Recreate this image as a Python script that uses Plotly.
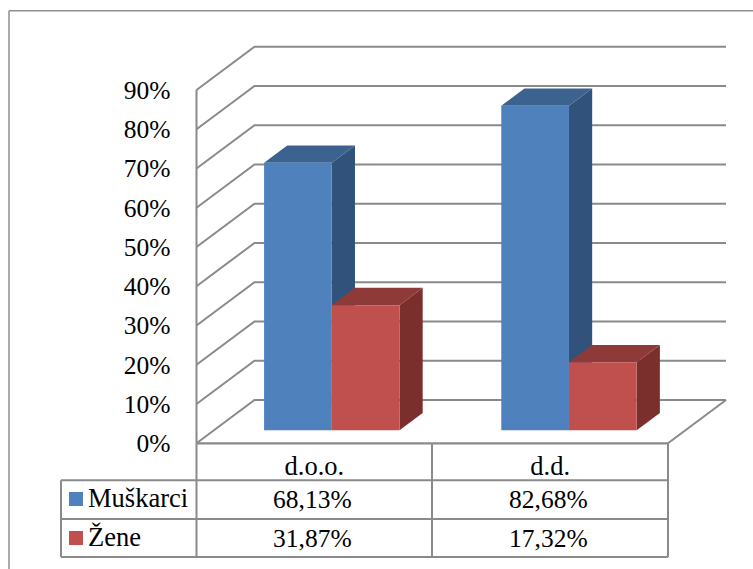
import plotly.graph_objects as go

# ---- data ----
categories = ["d.o.o.", "d.d."]
muskarci = [68.13, 82.68]
zene = [31.87, 17.32]
series_names = ["Muškarci", "Žene"]
y_ticks = [0, 10, 20, 30, 40, 50, 60, 70, 80, 90]
y_tick_labels = [f"{t}%" for t in y_ticks]

# ---- styling ----
W, H = 753, 569
FONT = "Liberation Serif"
GRID = "#8a8a8a"
BORDER = "#8f8f8f"
BLUE = ("#4F81BD", "#3C6290", "#31537B")   # front, top, side
RED = ("#C0504D", "#8E3A38", "#7B2F2D")

# axis geometry in pixels
AX_L, AX_R = 196.5, 668.0
AX_0, PX_PER_UNIT = 443.3, 3.926
CAT_PX = (AX_R - AX_L) / 2
DX, DY = 58.0 / CAT_PX, 43.3 / PX_PER_UNIT          # full wall depth in axis units
BAR_W = 67.7 / CAT_PX
BAR_PITCH = 237.2 / CAT_PX
D_FRONT, D_BACK = 0.30, 0.70                        # bar depth inside the floor


def px_x(p):
    return p / W


def px_y(p):
    return 1 - p / H


xr = [-0.5 - AX_L / CAT_PX, -0.5 + (W - AX_L) / CAT_PX]
yr = [(AX_0 - H) / PX_PER_UNIT, AX_0 / PX_PER_UNIT]

fig = go.Figure()


def poly(xs, ys, color):
    fig.add_trace(go.Scatter(x=xs, y=ys, mode="lines", fill="toself", fillcolor=color,
                             line=dict(width=0, color=color), hoverinfo="skip",
                             showlegend=False))


def line(xs, ys, width=2, color=GRID):
    fig.add_trace(go.Scatter(x=xs, y=ys, mode="lines", line=dict(width=width, color=color),
                             hoverinfo="skip", showlegend=False))


# walls: gridlines wrap from side wall to back wall
for t in y_ticks:
    line([-0.5, -0.5 + DX, 1.5 + DX], [t, t + DY, t + DY])
line([-0.5, -0.5], [y_ticks[0], y_ticks[-1]])
line([-0.5, 1.5], [0, 0], width=2.2)
line([1.5, 1.5 + DX], [0, DY])


def bar(x_left, value, colors):
    fx, fy = D_FRONT * DX, D_FRONT * DY
    bx, by = D_BACK * DX, D_BACK * DY
    xl, xr_ = x_left + fx, x_left + BAR_W + fx
    base, top = fy, value + fy
    ddx, ddy = bx - fx, by - fy
    poly([xr_, xr_ + ddx, xr_ + ddx, xr_, xr_], [base, base + ddy, top + ddy, top, base], colors[2])
    poly([xl, xl + ddx, xr_ + ddx, xr_, xl], [top, top + ddy, top + ddy, top, top], colors[1])
    poly([xl, xr_, xr_, xl, xl], [base, base, top, top, base], colors[0])


for i in range(len(categories)):
    pos = i * BAR_PITCH
    bar(pos - BAR_W, muskarci[i], BLUE)
    bar(pos, zene[i], RED)

# frame and data table
shapes = []


def seg(x0, y0, x1, y1, width=2, color=GRID):
    shapes.append(dict(type="line", xref="paper", yref="paper",
                       x0=px_x(x0), y0=px_y(y0), x1=px_x(x1), y1=px_y(y1),
                       line=dict(color=color, width=width)))


seg(9, 10.7, W, 10.7, 1.5, BORDER)
seg(9, 10.7, 9, H, 1.5, BORDER)
ROWS = [480.3, 519.0, 557.0]
TBL_L, TBL_MID = 61.0, 432.0
for r in ROWS:
    seg(TBL_L, r, AX_R, r)
seg(TBL_L, ROWS[0], TBL_L, ROWS[2])
for xp in (AX_L, TBL_MID, AX_R):
    seg(xp, AX_0, xp, ROWS[2])

annotations = []
rows_y = [499.0, 538.0]
swatches = [BLUE[0], RED[0]]
for k, (name, vals) in enumerate(zip(series_names, (muskarci, zene))):
    shapes.append(dict(type="rect", xref="paper", yref="paper", line=dict(width=0),
                       fillcolor=swatches[k],
                       x0=px_x(69), x1=px_x(83), y0=px_y(rows_y[k] - 7), y1=px_y(rows_y[k] + 7)))
    annotations.append(dict(text=name, xref="paper", yref="paper", x=px_x(86), y=px_y(rows_y[k] - 1),
                            xanchor="left", yanchor="middle", showarrow=False,
                            font=dict(family=FONT, size=26.5, color="#000000")))
    for i, v in enumerate(vals):
        annotations.append(dict(text=f"{v:.2f}%".replace(".", ","), x=i - 0.007, xref="x", yref="paper",
                                y=px_y(rows_y[k]), xanchor="center", yanchor="middle", showarrow=False,
                                font=dict(family=FONT, size=25.5, color="#000000")))

fig.update_layout(
    width=W, height=H, margin=dict(l=0, r=0, t=0, b=0, pad=0), autosize=False,
    paper_bgcolor="white", plot_bgcolor="white", showlegend=False,
    shapes=shapes, annotations=annotations,
    xaxis=dict(range=xr, domain=[0, 1], anchor="free", position=px_y(AX_0),
               tickmode="array", tickvals=list(range(len(categories))), ticktext=categories,
               ticks="", showgrid=False, zeroline=False, showline=False,
               ticklabelstandoff=4, tickfont=dict(family=FONT, size=26.5, color="#000000")),
    yaxis=dict(range=yr, domain=[0, 1], anchor="free", position=px_x(AX_L),
               tickmode="array", tickvals=y_ticks, ticktext=y_tick_labels,
               ticks="", showgrid=False, zeroline=False, showline=False,
               ticklabelstandoff=26, tickfont=dict(family=FONT, size=25.5, color="#000000")),
)

fig.write_html("out.html", config=dict(displayModeBar=False),
               post_script="document.body.style.margin='0';document.body.style.overflow='hidden';")
